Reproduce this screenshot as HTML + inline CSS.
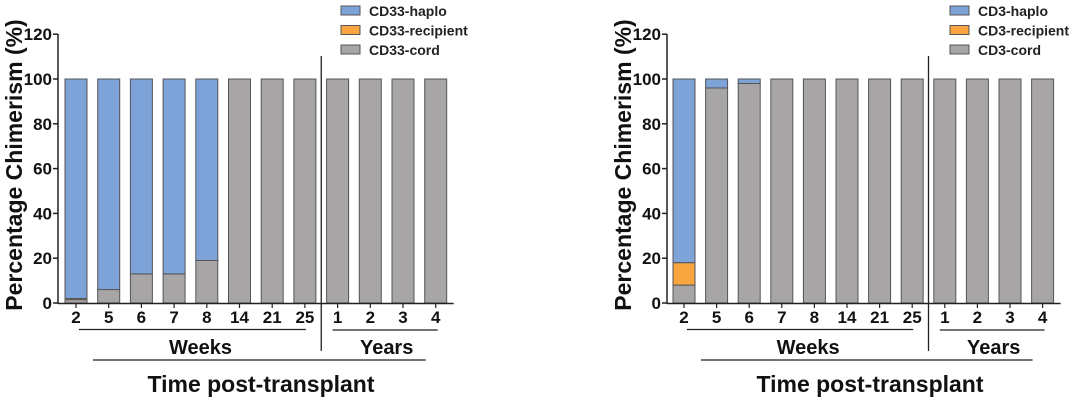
<!DOCTYPE html>
<html><head><meta charset="utf-8"><style>
body{margin:0;background:#fff;}
svg{display:block;font-family:"Liberation Sans",sans-serif;}
</style></head><body>
<svg id="s" width="1080" height="403" viewBox="0 0 1080 403"></svg>
<script>
const categories=["2","5","6","7","8","14","21","25","1","2","3","4"];
const cd33Cord=[1.5,6,13,13,19,100,100,100,100,100,100,100];
const cd33Recipient=[0.5,0,0,0,0,0,0,0,0,0,0,0];
const cd33Haplo=[98,94,87,87,81,0,0,0,0,0,0,0];
const cd3Cord=[8,96,98,100,100,100,100,100,100,100,100,100];
const cd3Recipient=[10,0,0,0,0,0,0,0,0,0,0,0];
const cd3Haplo=[82,4,2,0,0,0,0,0,0,0,0,0];
const yTicks=[0,20,40,60,80,100,120];
const NS="http://www.w3.org/2000/svg";
const svg=document.getElementById('s');
function mk(tag,attrs,parent,text){const e=document.createElementNS(NS,tag);for(const k in attrs)e.setAttribute(k,attrs[k]);if(text!==undefined)e.textContent=text;(parent||svg).appendChild(e);return e;}
const COL={haplo:"#7ea3d8",rec:"#f9a640",cord:"#a8a5a7"};
function chart(ox,axX,firstC,step,prefix,cord,rec,haplo){
  const g=mk('g',{});
  
  
  const y=v=>303-v*2.24;
  const x=i=>ox+firstC+i*step;
  const bw=22;
  categories.forEach((c,i)=>{
    let base=0;
    [[cord[i],COL.cord,'cord'],[rec[i],COL.rec,'recipient'],[haplo[i],COL.haplo,'haplo']].forEach(([v,col,n])=>{
      if(v<=0)return;
      const r=mk('rect',{x:x(i)-bw/2,y:y(base+v),width:bw,height:y(base)-y(base+v),fill:col,stroke:"#555","stroke-width":1},g);
      
      
      base+=v;
    });
    const t=mk('text',{x:x(i),y:323,"text-anchor":"middle","font-size":17,"font-weight":"bold",fill:"#111"},g,c);
    
    
  });
  const ya=mk('line',{x1:ox+axX,y1:34,x2:ox+axX,y2:304,stroke:"#222","stroke-width":1.5},g);
  
  const xa=mk('line',{x1:ox+axX,y1:303.5,x2:x(11)+18,y2:303.5,stroke:"#222","stroke-width":1.5},g);
  
  yTicks.forEach(v=>{
    mk('line',{x1:ox+axX-5,y1:y(v),x2:ox+axX,y2:y(v),stroke:"#222","stroke-width":1.5},g);
    const t=mk('text',{x:ox+axX-6,y:y(v)+6,"text-anchor":"end","font-size":17,"font-weight":"bold",fill:"#111"},g,v);
    
  });
  categories.forEach((c,i)=>mk('line',{x1:x(i),y1:303,x2:x(i),y2:308,stroke:"#222","stroke-width":1.2},g));
  const divX=(x(7)+x(8))/2;
  const dv=mk('line',{x1:divX,y1:56,x2:divX,y2:351,stroke:"#222","stroke-width":1.3},g);
  
  mk('line',{x1:x(0)+3,y1:329.5,x2:x(7)+1,y2:329.5,stroke:"#222","stroke-width":1.3},g);
  mk('line',{x1:x(8)-5,y1:330,x2:x(11)+2,y2:330,stroke:"#222","stroke-width":1.3},g);
  mk('line',{x1:x(0)+17,y1:360,x2:x(11)-10,y2:360,stroke:"#222","stroke-width":1.3},g);
  let t=mk('text',{x:(x(0)+x(7))/2+10,y:354,"text-anchor":"middle","font-size":20,"font-weight":"bold",fill:"#111"},g,"Weeks");
  
  t=mk('text',{x:(x(8)+x(11))/2,y:354,"text-anchor":"middle","font-size":20,"font-weight":"bold",fill:"#111"},g,"Years");
  
  t=mk('text',{x:ox+axX+203,y:392,"text-anchor":"middle","font-size":23,"font-weight":"bold",fill:"#111"},g,"Time post-transplant");
  
  t=mk('text',{x:0,y:0,transform:`translate(${ox+axX-36},165) rotate(-90)`,"text-anchor":"middle","font-size":23,"font-weight":"bold",fill:"#111"},g,"Percentage Chimerism (%)");
  
  const lx=ox+axX+283;
  [["haplo",COL.haplo],["recipient",COL.rec],["cord",COL.cord]].forEach(([n,col],k)=>{
    const r=mk('rect',{x:lx,y:6+k*19.5,width:19,height:9,fill:col,stroke:"#555","stroke-width":1},g);
    
    const tt=mk('text',{x:lx+28,y:16+k*19.5,"font-size":14,"font-weight":"bold",fill:"#222"},g,prefix+'-'+n);
    
  });
}
chart(0,58,76,32.7,'CD33',cd33Cord,cd33Recipient,cd33Haplo);
chart(600,67,84,32.6,'CD3',cd3Cord,cd3Recipient,cd3Haplo);
</script>
</body></html>
